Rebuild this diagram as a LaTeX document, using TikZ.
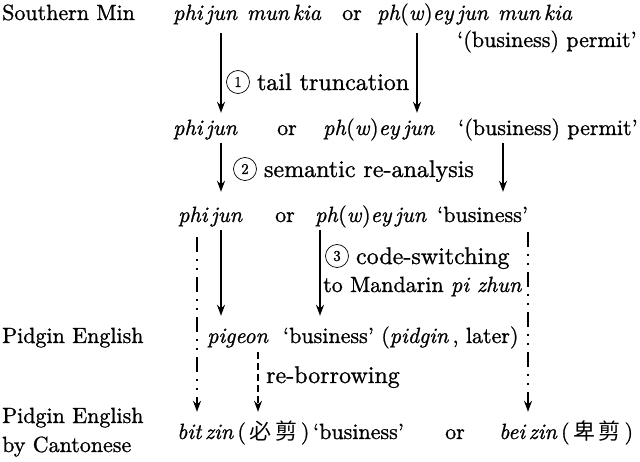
\documentclass[tikz,border=0pt]{standalone}
\usepackage{fontspec}
\usepackage{tikz}
\usetikzlibrary{arrows.meta}
\usetikzlibrary{positioning}
\setmainfont{lmroman10-regular}[Extension=.otf, ItalicFont=lmroman10-italic, BoldFont=lmroman10-bold, FakeBold=1]
\newfontfamily\cjk{Noto Sans CJK SC}

\begin{document}
\begin{tikzpicture}[x=1pt, y=-1pt,
        every node/.style={font=\fontsize{22}{27}\selectfont, inner sep=0pt},
        form/.style={anchor=base west, text height=15pt, text depth=5pt},
        num/.style={circle, draw, line width=0.7pt, minimum size=23pt, font=\fontsize{15}{15}\selectfont},
        lbl/.style={font=\fontsize{24}{29}\selectfont, text height=17pt, text depth=1pt},
        arr/.style={-{Stealth[length=11pt,width=8pt]}, line width=1.6pt, shorten <=3pt, shorten >=12pt},
        dd/.style={arr, line width=1.3pt, dash pattern=on 15pt off 7pt on 2pt off 7pt on 2pt off 7pt},
        dsh/.style={arr, line width=1.2pt, dash pattern=on 7pt off 4pt}]
        \useasboundingbox (0,0) rectangle (640,462);
        \coordinate (colA) at (221,0);
        \coordinate (colB) at (417,0);
        \coordinate (colC) at (503,0);
        \coordinate (colD) at (320,0);
        \coordinate (colE) at (197,0);
        \coordinate (colF) at (528,0);
        \coordinate (colG) at (258,0);
        \node[form] (smin) at (2,20) {Southern Min};
        \node[form] (r1a) at (173,20) {\textit{phi\,jun\hspace{0.45em}mun\,kia}};
        \node[form] (r1or) at (342,20) {or};
        \node[form] (r1b) at (377,20) {\textit{ph}(\textit{w})\textit{ey\,jun\hspace{0.45em}mun\,kia}};
        \node[form] (r1g) at (457,47) {`(business) permit'};
        \node[num] (c1) at (238,82) {1};
        \node[lbl, right=7pt of c1] (s1) {tail truncation};
        \node[form] (r2a) at (173,135) {\textit{phi\,jun}};
        \node[form] (r2or) at (277,135) {or};
        \node[form] (r2b) at (323,135) {\textit{ph}(\textit{w})\textit{ey\,jun}};
        \node[form] (r2g) at (458,135) {`(business) permit'};
        \node[num] (c2) at (245,169) {2};
        \node[lbl, right=7pt of c2] (s2) {semantic re-analysis};
        \node[form] (r3a) at (178,222) {\textit{phi\,jun}};
        \node[form] (r3or) at (275,222) {or};
        \node[form] (r3b) at (315,222) {\textit{ph}(\textit{w})\textit{ey\,jun}};
        \node[form] (r3g) at (437,222) {`business'};
        \node[num] (c3) at (337,256) {3};
        \node[lbl, right=7pt of c3] (s3) {code-switching};
        \node[form] (s3b) at (323,292) {to Mandarin \textit{pi zhun}};
        \node[form] (pe) at (2,343) {Pidgin English};
        \node[form] (r4) at (207,343) {\textit{pigeon}\ \ `business' (\textit{pidgin}\,, later)};
        \node[lbl, anchor=base west] (s4) at (266,383) {re-borrowing};
        \node[form] (pec) at (2,423) {Pidgin English};
        \node[form] (byc) at (2,452) {by Cantonese};
        \node[form] (r5a) at (177,439) {\textit{bit\,zin}\,(\,{\cjk 必\,剪}\,)\,`business'};
        \node[form] (r5or) at (445,439) {or};
        \node[form] (r5b) at (499,439) {\textit{bei\,zin}\,(\,{\cjk 卑\,剪}\,)};
        \draw[arr, shorten <=8pt, shorten >=7pt] (r1a.south -| colA) -- (r2a.north -| colA);
        \draw[arr, shorten <=8pt, shorten >=7pt] (r1b.south -| colB) -- (r2b.north -| colB);
        \draw[arr, shorten >=15pt] (r2a.south -| colA) -- (r3a.north -| colA);
        \draw[arr, shorten >=15pt] (r2g.south -| colC) -- (r3g.north -| colC);
        \draw[arr] (r3a.south -| colA) -- (r4.north -| colA);
        \draw[arr] (r3b.south -| colD) -- (r4.north -| colD);
        \draw[dd, shorten <=10pt] (r3a.south -| colE) -- (r5a.north -| colE);
        \draw[dd, shorten <=5pt] (r3g.south -| colF) -- (r5b.north -| colF);
        \draw[dsh, shorten <=4pt] (r4.south -| colG) -- (r5a.north -| colG);
    \end{tikzpicture}
\end{document}
